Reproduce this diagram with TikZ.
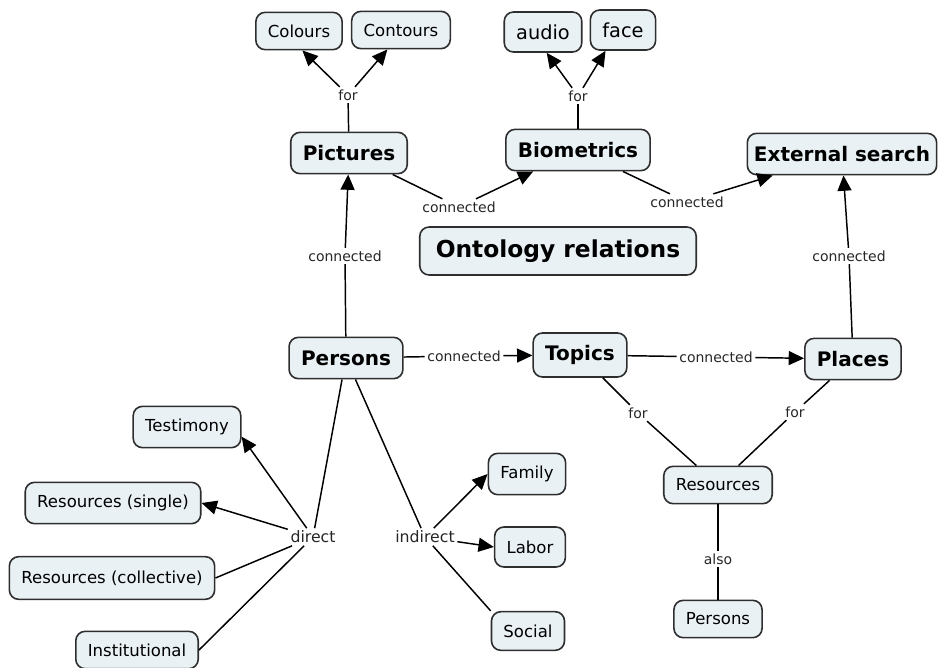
\documentclass[tikz,border=0pt]{standalone}
\usepackage{fontspec}
\setmainfont{DejaVu Sans}
\usepackage{tikz}
\usetikzlibrary{positioning}
\usetikzlibrary{arrows.meta}

\definecolor{boxfill}{HTML}{E9F1F5}
\definecolor{boxline}{HTML}{2E2E2E}

\tikzset{
	concept/.style={draw=boxline,fill=boxfill,rounded corners=7pt,line width=1.2pt,
		font=\fontsize{12.4}{14}\selectfont,minimum height=28pt,inner xsep=9pt},
	topic/.style={concept,font=\bfseries\fontsize{15}{17}\selectfont,minimum height=31pt},
	link/.style={font=\fontsize{10.5}{12}\selectfont,text=black!85,inner sep=1.5pt},
	>={Triangle[length=11.5pt,width=10.5pt]}
}

\begin{document}
\begin{tikzpicture}[x=0.75pt,y=-0.75pt,line width=1.1pt]
		\useasboundingbox (0,0) rectangle (940,668);
		
		% main topics
		\node[topic] (pic) at (349,153) {Pictures};
		\node[topic] (bio) at (578,150) {Biometrics};
		\node[topic,inner xsep=5pt] (ext) at (842,154) {External search};
		\node[topic,font=\bfseries\fontsize{17.5}{20}\selectfont,minimum height=36pt,inner xsep=12pt] (onto) at (558,251) {Ontology relations};
		\node[topic] (pers) at (346,358) {Persons};
		\node[topic,minimum height=33pt] (top) at (580,355) {Topics};
		\node[topic] (plc) at (853,359) {Places};
		
		% sub concepts
		\node[concept] (col) at (299,31) {Colours};
		\node[concept] (cont) at (401,30) {Contours};
		\node[concept,font=\fontsize{14.5}{16}\selectfont,minimum height=30pt] (aud) at (543,32) {audio};
		\node[concept,font=\fontsize{14.5}{16}\selectfont,minimum height=30pt] (face) at (623,30) {face};
		\node[concept,minimum height=31pt] (test) at (187,427) {Testimony};
		\node[concept,minimum height=31pt] (rsing) at (113,503) {Resources (single)};
		\node[concept,minimum height=32pt] (rcoll) at (112,578) {Resources (collective)};
		\node[concept] (inst) at (137,650) {Institutional};
		\node[concept,minimum height=31pt] (fam) at (527,474) {Family};
		\node[concept,minimum height=30pt] (lab) at (530,547) {Labor};
		\node[concept,minimum height=29pt] (soc) at (528,631) {Social};
		\node[concept] (res) at (718,485) {Resources};
		\node[concept] (pers2) at (718,619) {Persons};
		
		% linking phrases
		\node[link] (lfor1) at (348,95) {for};
		\node[link] (lfor2) at (578,96) {for};
		\node[link] (lcon1) at (459,207) {connected};
		\node[link] (lcon2) at (687,202) {connected};
		\node[link] (lcon3) at (345,256) {connected};
		\node[link] (lcon4) at (849,256) {connected};
		\node[link] (lcon5) at (464,356) {connected};
		\node[link] (lcon6) at (716,357) {connected};
		\node[link] (lfor3) at (638,413) {for};
		\node[link] (lfor4) at (795,412) {for};
		\node[link] (lalso) at (718,559) {also};
		\node[link,font=\fontsize{11.8}{13}\selectfont] (ldir) at (313,537) {direct};
		\node[link,font=\fontsize{11.8}{13}\selectfont] (lind) at (425,537) {indirect};
		
		\draw (pic) -- (lfor1);
		\draw[->] (lfor1) -- (col.-80);
		\draw[->] (lfor1) -- (cont.-125);
		\draw (bio) -- (lfor2);
		\draw[->] (lfor2) -- (aud.-80);
		\draw[->] (lfor2) -- (face.-130);
		
		\draw (pic) -- (lcon1);
		\draw[->] (lcon1) -- (bio);
		\draw (bio) -- (lcon2);
		\draw[->] (lcon2) -- (ext);
		\draw (pers) -- (lcon3);
		\draw[->] (lcon3) -- (pic);
		\draw (plc) -- (lcon4);
		\draw[->] (lcon4) -- (ext);
		\draw (pers) -- (lcon5);
		\draw[->] (lcon5) -- (top);
		\draw (top) -- (lcon6);
		\draw[->] (lcon6) -- (plc);
		
		\draw (top) -- (lfor3) -- (res);
		\draw (plc) -- (lfor4) -- (res);
		\draw (res) -- (lalso) -- (pers2);
		
		\draw (pers) -- (ldir);
		\draw[->] (ldir) -- (test.-10);
		\draw[->] (ldir) -- (rsing.east);
		\draw (ldir) -- (rcoll.east);
		\draw (ldir) -- (inst.east);
		
		\draw (pers) -- (lind);
		\draw[->] (lind) -- (fam.west);
		\draw[->] (lind) -- (lab.west);
		\draw (lind) -- (soc.north west);
\end{tikzpicture}
\end{document}
